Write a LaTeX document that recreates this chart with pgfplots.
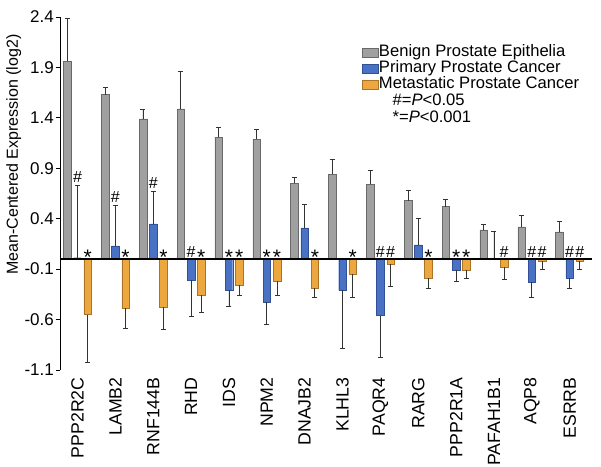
\documentclass[border=0pt]{standalone}
\usepackage{fontspec}
\setmainfont{Liberation Sans}
\usepackage{pgfplots}
\pgfplotsset{compat=1.18}
\definecolor{cgray}{RGB}{160,160,160}
\definecolor{cgrayd}{RGB}{105,105,105}
\definecolor{cblue}{RGB}{74,114,196}
\definecolor{cblued}{RGB}{50,80,150}
\definecolor{corange}{RGB}{236,167,62}
\definecolor{coranged}{RGB}{170,115,40}
\pgfplotsset{
  errb/.style={
    /pgfplots/error bars/y explicit,
    /pgfplots/error bars/error bar style={line width=0.8pt, black!80},
    /pgfplots/error bars/error mark options={rotate=90, mark size=2.5pt, line width=0.8pt, black!80}},
  mylegend/.style={/pgfplots/legend image code/.code={\draw[##1, line width=0.6pt] (0pt,-4.5pt) rectangle (16pt,4.5pt);}},
}
\begin{document}
\begin{tikzpicture}[
  sig/.style={anchor=base, inner sep=0pt, font=\fontsize{16}{18}\selectfont},
  star/.style={anchor=base, inner sep=0pt, font=\fontsize{21}{22}\selectfont, yshift=-5.5pt}]
\begin{axis}[
  scale only axis, width=532pt, height=353pt,
  xmin=-0.462, xmax=13.59, ymin=-1.1, ymax=2.4,
  axis y line=left, axis x line=bottom,
  x axis line style={draw=none},
  y axis line style={-, line width=0.8pt, black},
  ytick={-1.1,-0.6,-0.1,0.4,0.9,1.4,1.9,2.4},
  yticklabels={-1.1,-0.6,-0.1,0.4,0.9,1.4,1.9,2.4},
  xtick={0,1,2,3,4,5,6,7,8,9,10,11,12,13},
  xticklabels={PPP2R2C,LAMB2,RNF144B,RHD,IDS,NPM2,DNAJB2,KLHL3,PAQR4,RARG,PPP2R1A,PAFAH1B1,AQP8,ESRRB},
  x tick label style={rotate=90, anchor=east, font=\fontsize{17.7}{20}\selectfont},
  major x tick style={draw=none},
  y tick label style={font=\fontsize{17}{20}\selectfont, inner sep=2pt},
  tick align=outside, major tick length=4pt,
  major y tick style={line width=0.8pt, black},
  ylabel={Mean-Centered Expression (log2)},
  ylabel style={at={(ticklabel cs:0.61)}, font=\fontsize{16}{19}\selectfont, inner sep=1pt},
  legend style={at={(0.568,0.923)}, anchor=north west, draw=none, fill=none,
    font=\fontsize{16.6}{18}\selectfont, inner sep=0pt, row sep=0pt,
    nodes={inner sep=0pt, text height=12pt, text depth=4pt},
    /tikz/every even column/.style={column sep=5pt}},
  legend cell align=left,
]
% Benign (gray)
\addplot[ybar, bar width=0.2, bar shift=0pt, fill=cgray, draw=cgrayd, line width=0.4pt, mylegend,
  errb, error bars/y dir=plus] coordinates {
  (-0.27,1.96) +- (0,0.43)
  (0.73,1.63) +- (0,0.07)
  (1.73,1.39) +- (0,0.09)
  (2.73,1.49) +- (0,0.37)
  (3.73,1.21) +- (0,0.10)
  (4.73,1.19) +- (0,0.10)
  (5.73,0.75) +- (0,0.06)
  (6.73,0.84) +- (0,0.15)
  (7.73,0.74) +- (0,0.14)
  (8.73,0.58) +- (0,0.10)
  (9.73,0.52) +- (0,0.07)
  (10.73,0.29) +- (0,0.05)
  (11.73,0.32) +- (0,0.11)
  (12.73,0.27) +- (0,0.10)
};
\addlegendentry{Benign Prostate Epithelia}
% Primary (blue) positive
\addplot[ybar, bar width=0.2, bar shift=0pt, fill=cblue, draw=cblued, line width=0.4pt, mylegend,
  errb, error bars/y dir=plus] coordinates {
  (0,0.013) +- (0,0.72)
  (1,0.13) +- (0,0.40)
  (2,0.35) +- (0,0.32)
  (6,0.31) +- (0,0.23)
  (9,0.14) +- (0,0.26)
  (11,0.0) +- (0,0.27)
};
\addlegendentry{Primary Prostate Cancer}
% Metastatic (orange)
\addplot[ybar, bar width=0.2, bar shift=0pt, fill=corange, draw=coranged, line width=0.4pt, mylegend,
  errb, error bars/y dir=minus] coordinates {
  (0.27,-0.55) +- (0,0.47)
  (1.27,-0.49) +- (0,0.20)
  (2.27,-0.48) +- (0,0.22)
  (3.27,-0.36) +- (0,0.17)
  (4.27,-0.26) +- (0,0.10)
  (5.27,-0.22) +- (0,0.14)
  (6.27,-0.29) +- (0,0.09)
  (7.27,-0.15) +- (0,0.23)
  (8.27,-0.05) +- (0,0.22)
  (9.27,-0.19) +- (0,0.10)
  (10.27,-0.11) +- (0,0.08)
  (11.27,-0.08) +- (0,0.12)
  (12.27,-0.02) +- (0,0.08)
  (13.27,-0.02) +- (0,0.08)
};
\addlegendentry{Metastatic Prostate Cancer}
% Primary (blue) negative
\addplot[ybar, bar width=0.2, bar shift=0pt, fill=cblue, draw=cblued, line width=0.4pt, forget plot,
  errb, error bars/y dir=minus] coordinates {
  (3,-0.21) +- (0,0.36)
  (4,-0.31) +- (0,0.16)
  (5,-0.43) +- (0,0.22)
  (7,-0.31) +- (0,0.58)
  (8,-0.56) +- (0,0.42)
  (10,-0.11) +- (0,0.11)
  (12,-0.23) +- (0,0.15)
  (13,-0.19) +- (0,0.10)
};
\draw[black, line width=1.2pt] (axis cs:-0.462,0) -- (axis cs:13.59,0);
% significance marks
\node[sig, yshift=3pt] at (axis cs:0,0.73) {\#};
\node[sig, yshift=3pt] at (axis cs:1,0.53) {\#};
\node[sig, yshift=3pt] at (axis cs:2,0.67) {\#};
\node[sig, yshift=2pt] at (axis cs:3,0) {\#};
\node[sig, yshift=2pt] at (axis cs:8,0) {\#};
\node[sig, yshift=2pt] at (axis cs:12,0) {\#};
\node[sig, yshift=2pt] at (axis cs:13,0) {\#};
\node[sig, yshift=2pt] at (axis cs:8.27,0) {\#};
\node[sig, yshift=2pt] at (axis cs:11.27,0) {\#};
\node[sig, yshift=2pt] at (axis cs:12.27,0) {\#};
\node[sig, yshift=2pt] at (axis cs:13.27,0) {\#};
\node[star] at (axis cs:4,0) {*};
\node[star] at (axis cs:5,0) {*};
\node[star] at (axis cs:10,0) {*};
\node[star] at (axis cs:0.27,0) {*};
\node[star] at (axis cs:1.27,0) {*};
\node[star] at (axis cs:2.27,0) {*};
\node[star] at (axis cs:3.27,0) {*};
\node[star] at (axis cs:4.27,0) {*};
\node[star] at (axis cs:5.27,0) {*};
\node[star] at (axis cs:6.27,0) {*};
\node[star] at (axis cs:7.27,0) {*};
\node[star] at (axis cs:9.27,0) {*};
\node[star] at (axis cs:10.27,0) {*};
% p-value key
\node[anchor=west, inner sep=0pt, font=\fontsize{16.6}{18}\selectfont] at (rel axis cs:0.625,0.765) {\#=\textit{P}<0.05};
\node[anchor=west, inner sep=0pt, font=\fontsize{16.6}{18}\selectfont] at (rel axis cs:0.625,0.717) {*=\textit{P}<0.001};
\coordinate (SW) at (rel axis cs:0,0);
\coordinate (NE) at (rel axis cs:1,1);
\end{axis}
\pgfresetboundingbox
\path ([xshift=-60pt,yshift=-97pt]SW) rectangle ([xshift=9pt,yshift=17pt]NE);
\end{tikzpicture}
\end{document}
